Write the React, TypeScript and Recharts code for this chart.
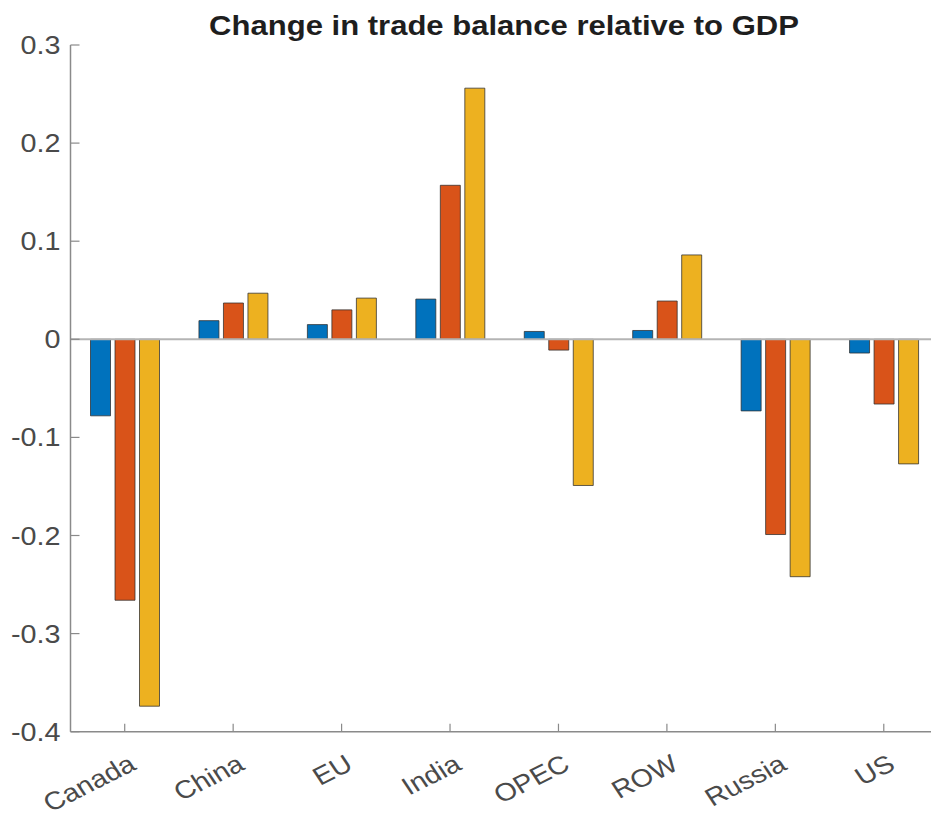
import React from 'react';
import { BarChart, Bar, XAxis, YAxis, ReferenceLine } from 'recharts';

const regions = ['Canada', 'China', 'EU', 'India', 'OPEC', 'ROW', 'Russia', 'US'];
const blueValues = [-0.078, 0.019, 0.015, 0.041, 0.008, 0.009, -0.073, -0.014];
const orangeValues = [-0.266, 0.037, 0.030, 0.157, -0.011, 0.039, -0.199, -0.066];
const yellowValues = [-0.374, 0.047, 0.042, 0.256, -0.149, 0.086, -0.242, -0.127];
const yTicks = [-0.4, -0.3, -0.2, -0.1, 0, 0.1, 0.2, 0.3];

// the reference picture is stretched sideways a little, so text gets the same stretch
const STRETCH = 1.15;
const AXIS_GRAY = '#8a8a8a';
const TEXT_GRAY = '#4a4a4a';
const FONT = '"Liberation Sans", Arial, Helvetica, sans-serif';

const chartData = regions.map((name, i) => ({
  name,
  a: blueValues[i],
  b: orangeValues[i],
  c: yellowValues[i],
}));

const BottomTick = ({ x, y, payload }: any) => (
  <g>
    <line x1={x} y1={y} x2={x} y2={y - 8} stroke={AXIS_GRAY} strokeWidth={1.2} />
    <g transform={`translate(${x + 13},${y + 37}) scale(${STRETCH},1) rotate(-30)`}>
      <text textAnchor="end" fontSize={25} fill={TEXT_GRAY} fontFamily={FONT}>
        {payload.value}
      </text>
    </g>
  </g>
);

const TopTick = ({ x, y }: any) => (
  <line x1={x} y1={y} x2={x} y2={y + 8} stroke={AXIS_GRAY} strokeWidth={1.2} />
);

const LeftTick = ({ x, y, payload }: any) => {
  const v = payload.value;
  const label = v === 0 ? '0' : v.toFixed(1);
  return (
    <g>
      <line x1={x} y1={y} x2={x + 9} y2={y} stroke={AXIS_GRAY} strokeWidth={1.2} />
      <g transform={`translate(${x - 10},${y + 9}) scale(${STRETCH},1)`}>
        <text textAnchor="end" fontSize={25} fill={TEXT_GRAY} fontFamily={FONT}>
          {label}
        </text>
      </g>
    </g>
  );
};

export default function App() {
  return (
    <div
      style={{
        position: 'absolute',
        left: 0,
        top: 0,
        width: 931,
        height: 816,
        overflow: 'hidden',
        background: '#fff',
      }}
    >
      <svg width={931} height={45} style={{ position: 'absolute', left: 0, top: 0 }}>
        <g transform={`translate(504,35) scale(${STRETCH},1)`}>
          <text textAnchor="middle" fontSize={27} fontWeight="bold" fill="#1e1e1e" fontFamily={FONT}>
            Change in trade balance relative to GDP
          </text>
        </g>
      </svg>
      <div style={{ position: 'absolute', left: 0, top: 0 }}>
        <BarChart
          width={960}
          height={816}
          data={chartData}
          margin={{ top: 45, right: 22, left: 10.5, bottom: 0 }}
          barSize={20}
          barGap={4.5}
        >
          <XAxis
            dataKey="name"
            height={84.3}
            tickSize={0}
            tickMargin={0}
            tick={<BottomTick />}
            interval={0}
            axisLine={{ stroke: AXIS_GRAY, strokeWidth: 1.5 }}
          />
          <XAxis
            xAxisId="top"
            dataKey="name"
            orientation="top"
            height={0}
            tickSize={0}
            tickMargin={0}
            tick={<TopTick />}
            interval={0}
            axisLine={{ stroke: AXIS_GRAY, strokeWidth: 1.5 }}
          />
          <YAxis
            width={60}
            domain={[-0.4, 0.3]}
            ticks={yTicks}
            allowDataOverflow
            tickSize={0}
            tickMargin={0}
            tick={<LeftTick />}
            axisLine={{ stroke: AXIS_GRAY, strokeWidth: 1.5 }}
          />
          <ReferenceLine y={0} stroke="#b4b4b4" strokeWidth={2} />
          <Bar dataKey="a" fill="#0072BD" stroke="#2e2e2e" strokeOpacity={0.75} strokeWidth={1} isAnimationActive={false} />
          <Bar dataKey="b" fill="#D95319" stroke="#2e2e2e" strokeOpacity={0.75} strokeWidth={1} isAnimationActive={false} />
          <Bar dataKey="c" fill="#EDB120" stroke="#2e2e2e" strokeOpacity={0.75} strokeWidth={1} isAnimationActive={false} />
        </BarChart>
      </div>
    </div>
  );
}
